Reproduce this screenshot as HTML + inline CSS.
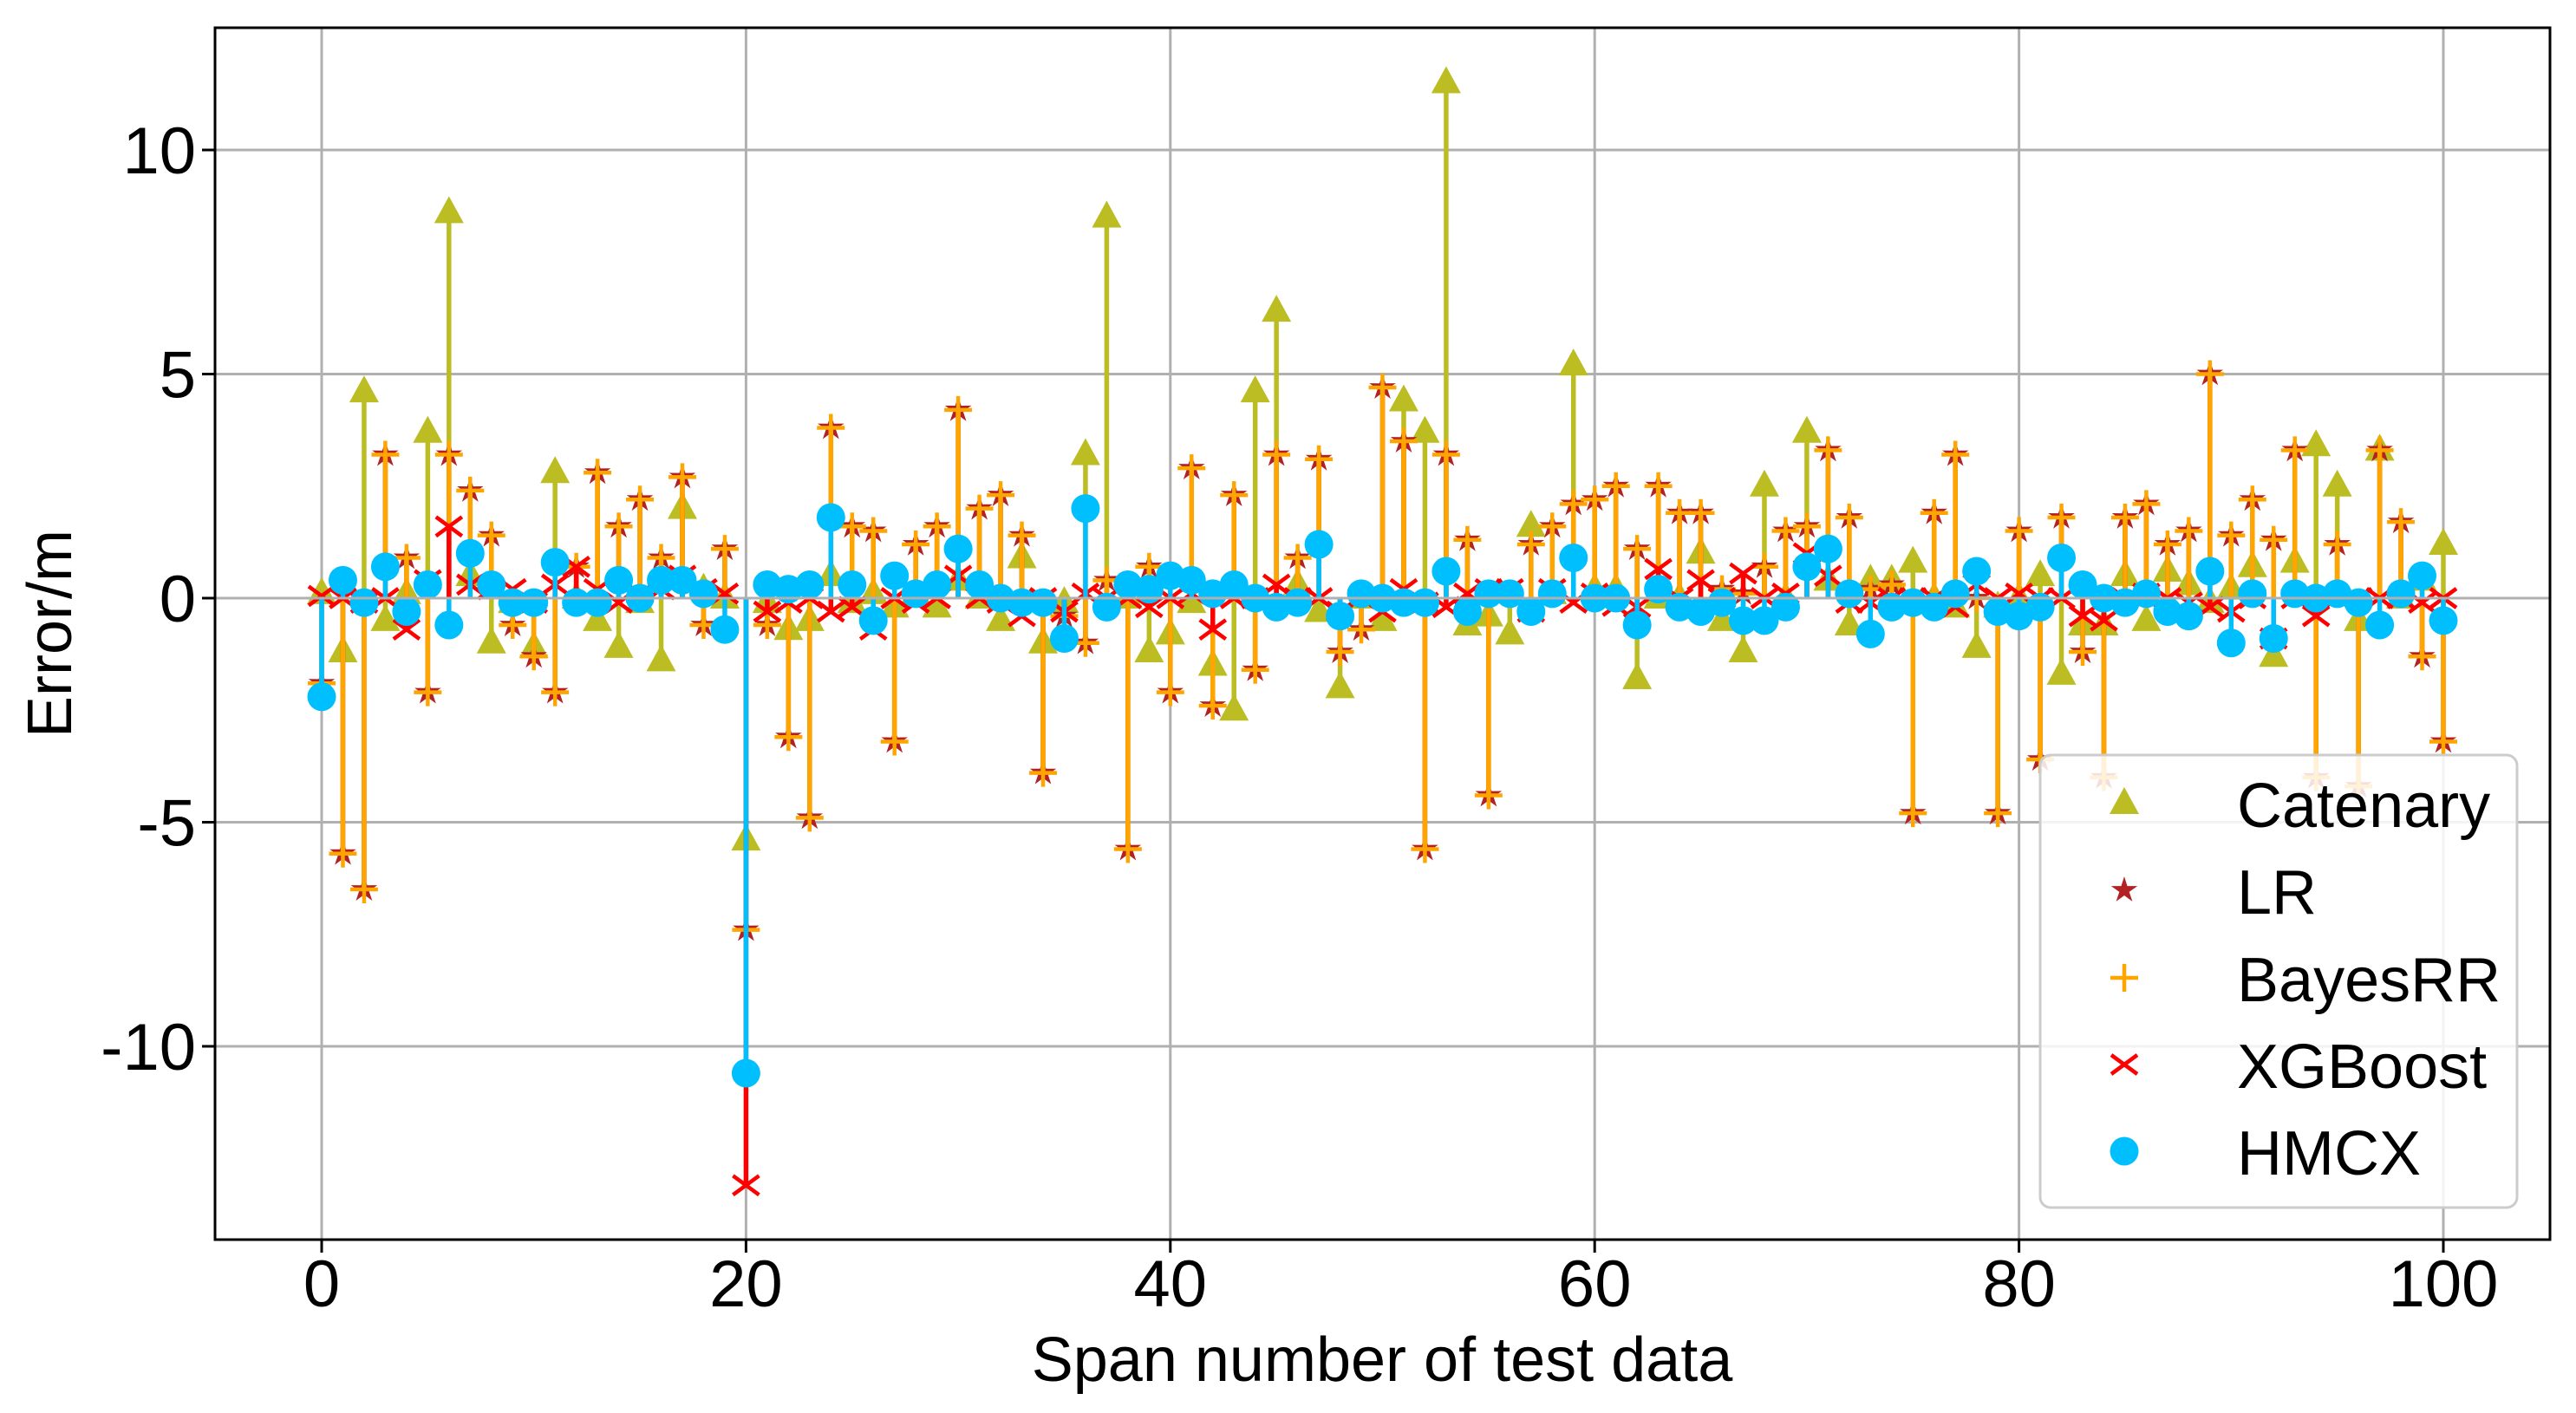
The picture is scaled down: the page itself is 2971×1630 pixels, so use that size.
<!DOCTYPE html>
<html><head><meta charset="utf-8">
<style>
html,body{margin:0;padding:0;background:#fff;}
svg{display:block;font-family:"Liberation Sans",Arial,sans-serif;}
</style></head>
<body>
<svg id="chart" width="2971" height="1630" viewBox="0 0 2971 1630" xmlns="http://www.w3.org/2000/svg">
<rect x="0" y="0" width="2971" height="1630" fill="#fff"/>
<g id="grid"></g>
<g id="series"></g>
<line x1="248" x2="2941" y1="690" y2="690" stroke="#b0b0b0" stroke-width="3"/>
<rect x="248" y="32" width="2693" height="1398" fill="none" stroke="#000" stroke-width="3"/>
<g id="ticks"></g>
<text x="1594" y="1593" font-size="72" text-anchor="middle">Span number of test data</text>
<text x="0" y="0" font-size="72" text-anchor="middle" transform="translate(82,731) rotate(-90)">Error/m</text>
<g id="legend">
<rect x="2353" y="871" width="550" height="522" rx="12" fill="#fff" fill-opacity="0.85" stroke="#cccccc" stroke-width="3"/>
</g>
</svg>
<script>
const categories = Array.from({length:101},(_, i)=>i);
const catenary = [0.1,-1.2,4.6,-0.5,0.1,3.7,8.6,0.5,-1.0,-0.1,-1.1,2.8,0.0,-0.5,-1.1,-0.1,-1.4,2.0,0.2,0.0,
 -5.4,-0.1,-0.7,-0.5,0.5,-0.1,0.1,-0.2,0.1,-0.2,0.4,0.0,-0.5,0.9,-1.0,-0.1,3.2,8.5,0.0,-1.2,
 -0.8,-0.1,-1.5,-2.5,4.6,6.4,0.3,-0.3,-2.0,0.0,-0.5,4.4,3.7,11.5,-0.6,-0.4,-0.8,1.6,0.1,5.2,
 0.2,0.2,-1.8,0.0,0.0,1.0,-0.5,-1.2,2.5,0.0,3.7,0.4,-0.6,0.4,0.4,0.8,0.0,-0.2,-1.1,-0.2,
 0.0,0.5,-1.7,-0.6,-0.6,0.5,-0.5,0.6,0.3,-0.1,0.2,0.7,-1.3,0.8,3.4,2.5,-0.5,3.3,0.0,0.4,1.2];
const lr = [-1.9,-5.7,-6.5,3.2,0.9,-2.1,3.2,2.4,1.4,-0.6,-1.3,-2.1,0.7,2.8,1.6,2.2,0.9,2.7,-0.6,1.1,
 -7.4,-0.6,-3.1,-4.9,3.8,1.6,1.5,-3.2,1.2,1.6,4.2,2.0,2.3,1.4,-3.9,-0.4,-1.0,0.4,-5.6,0.7,
 -2.1,2.9,-2.4,2.3,-1.6,3.2,0.9,3.1,-1.2,-0.7,4.7,3.5,-5.6,3.2,1.3,-4.4,0.1,1.2,1.6,2.1,
 2.2,2.5,1.1,2.5,1.9,1.9,0.2,0.1,0.7,1.5,1.6,3.3,1.8,0.2,0.3,-4.8,1.9,3.2,0.0,-4.8,
 1.5,-3.6,1.8,-1.2,-4.0,1.8,2.1,1.2,1.5,5.0,1.4,2.2,1.3,3.3,-4.0,1.2,-4.2,3.3,1.7,-1.3,-3.2];
const bayesrr = lr.map(v=>v);
const xgboost = [0.05,0.0,-0.1,0.0,-0.7,0.4,1.6,0.3,0.2,0.2,-0.1,0.3,0.7,0.2,-0.1,0.1,0.2,0.5,0.2,0.1,
 -13.1,-0.3,-0.1,0.0,-0.3,-0.2,-0.7,0.0,-0.1,0.0,0.5,0.0,-0.1,-0.4,0.0,-0.3,0.1,0.0,0.0,-0.2,
 0.0,0.1,-0.7,0.0,0.0,0.3,0.0,0.0,-0.3,0.0,-0.3,0.2,-0.1,-0.2,0.1,0.2,0.2,-0.3,0.2,-0.1,
 0.1,-0.17,-0.2,0.65,0.0,0.4,0.0,0.55,0.0,0.1,1.0,0.5,-0.1,-0.1,0.0,0.0,0.0,-0.2,0.3,0.0,
 0.1,0.0,0.0,-0.4,-0.5,0.0,0.1,0.0,-0.1,-0.2,-0.3,0.0,-0.9,0.0,-0.4,0.0,0.0,0.0,0.0,-0.1,0.0];
const hmcx = [-2.2,0.4,-0.1,0.7,-0.3,0.3,-0.6,1.0,0.3,-0.1,-0.1,0.8,-0.1,-0.1,0.4,0.0,0.4,0.4,0.1,-0.7,
 -10.6,0.3,0.2,0.3,1.8,0.3,-0.5,0.5,0.1,0.3,1.1,0.3,0.0,-0.1,-0.1,-0.9,2.0,-0.2,0.3,0.2,
 0.5,0.4,0.1,0.3,0.0,-0.2,-0.1,1.2,-0.4,0.1,0.0,-0.1,-0.1,0.6,-0.3,0.1,0.1,-0.3,0.1,0.9,
 0.0,0.0,-0.6,0.2,-0.2,-0.3,-0.1,-0.5,-0.5,-0.2,0.7,1.1,0.1,-0.8,-0.2,-0.1,-0.2,0.1,0.6,-0.3,
 -0.4,-0.2,0.9,0.3,0.0,-0.1,0.1,-0.3,-0.4,0.6,-1.0,0.1,-0.9,0.1,0.0,0.1,-0.1,-0.6,0.1,0.5,-0.5];
const xTicks = [0,20,40,60,80,100];
const yTicks = [10,5,0,-5,-10];
const yTickLabels = ["10","5","0","-5","-10"];
const seriesNames = ["Catenary","LR","BayesRR","XGBoost","HMCX"];

const NS="http://www.w3.org/2000/svg";
const X0=371, X1=2818, Y0=690, YU=51.7;
function xs(v){return X0+(X1-X0)*v/100;}
function ys(v){return Y0-YU*v;}
function mk(tag,attrs,parent){const e=document.createElementNS(NS,tag);for(const k in attrs)e.setAttribute(k,attrs[k]);parent.appendChild(e);return e;}

const grid=document.getElementById('grid');
const ticks=document.getElementById('ticks');
xTicks.forEach(t=>{
  const g=mk('line',{x1:xs(t),x2:xs(t),y1:32,y2:1430,stroke:'#b0b0b0','stroke-width':3},grid);
  
  
  const tk=mk('line',{x1:xs(t),x2:xs(t),y1:1430,y2:1445,stroke:'#000','stroke-width':3},ticks);
  
  
  const tl=mk('text',{x:xs(t),y:1507,'font-size':76,'text-anchor':'middle'},ticks);
  tl.textContent=String(t);
  
  
});
yTicks.forEach((t,i)=>{
  const g=mk('line',{x1:248,x2:2941,y1:ys(t),y2:ys(t),stroke:'#b0b0b0','stroke-width':3},grid);
  
  
  const tk=mk('line',{x1:233,x2:248,y1:ys(t),y2:ys(t),stroke:'#000','stroke-width':3},ticks);
  
  
  const tl=mk('text',{x:226,y:ys(t)+27,'font-size':76,'text-anchor':'end'},ticks);
  tl.textContent=yTickLabels[i];
  
  
});

function marker(type,cx,cy,parent){
  let e;
  if(type==='tri'){
    e=mk('polygon',{points:`${cx},${cy-19} ${cx-17},${cy+12} ${cx+17},${cy+12}`,fill:'#bcbd22'},parent);
  }else if(type==='star'){
    let p=[];for(let k=0;k<10;k++){const r=k%2?6:16;const a=-Math.PI/2+k*Math.PI/5;p.push((cx+r*Math.cos(a)).toFixed(1)+','+(cy+r*Math.sin(a)).toFixed(1));}
    e=mk('polygon',{points:p.join(' '),fill:'#b22222'},parent);
  }else if(type==='plus'){
    e=mk('path',{d:`M${cx-16},${cy}H${cx+16}M${cx},${cy-16}V${cy+16}`,stroke:'#ffa500','stroke-width':4.5,fill:'none'},parent);
  }else if(type==='x'){
    e=mk('path',{d:`M${cx-15},${cy-11}L${cx+15},${cy+11}M${cx-15},${cy+11}L${cx+15},${cy-11}`,stroke:'#ff0000','stroke-width':4.5,fill:'none'},parent);
  }else{
    e=mk('ellipse',{cx:cx,cy:cy,rx:16.5,ry:16.5,fill:'#00bfff'},parent);
  }
  return e;
}

const layer=document.getElementById('series');
const defs=[
  {vals:catenary,color:'#bcbd22',m:'tri',name:'catenary'},
  {vals:lr,color:'#b22222',m:'star',name:'lr'},
  {vals:bayesrr,color:'#ffa500',m:'plus',name:'bayesrr'},
  {vals:xgboost,color:'#ff0000',m:'x',name:'xgboost'},
  {vals:hmcx,color:'#00bfff',m:'circle',name:'hmcx'}
];
defs.forEach(s=>{
  const g=mk('g',{},layer);
  
  
  s.vals.forEach((v,i)=>{
    const x=xs(categories[i]);
    const st=mk('line',{x1:x,x2:x,y1:Y0,y2:ys(v),stroke:s.color,'stroke-width':5.5},g);
    
    
  });
  s.vals.forEach((v,i)=>{
    const m=marker(s.m,xs(categories[i]),ys(v),g);
    
    
  });
});

const legend=document.getElementById('legend');
const rowsY=[927,1027,1128,1228,1328];
const lm=['tri','star','plus','x','circle'];
seriesNames.forEach((n,i)=>{
  const g=mk('g',{},legend);
  
  
  const m=marker(lm[i],2450,rowsY[i],g);
  
  
  const t=mk('text',{x:2580,y:rowsY[i]+27,'font-size':72},g);
  t.textContent=n;
  
  
});
</script>
</body></html>
